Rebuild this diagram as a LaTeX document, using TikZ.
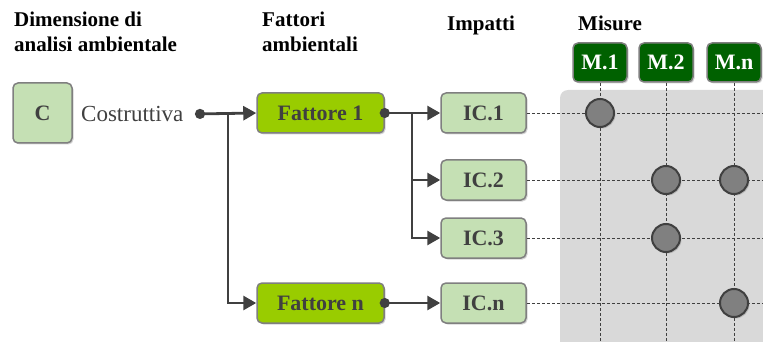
\documentclass[tikz,border=0pt]{standalone}
\usepackage{fontspec}
\setmainfont{Liberation Serif}[BoldFont={Liberation Serif Bold},ItalicFont={Liberation Serif Italic}]
\usetikzlibrary{arrows.meta,shadows}
\definecolor{lgreen}{HTML}{C5E0B4}
\definecolor{mgreen}{HTML}{99CC00}
\definecolor{dgreen}{HTML}{006100}
\definecolor{bord}{HTML}{7F7F7F}
\definecolor{ink}{HTML}{404040}
\definecolor{bg}{HTML}{D9D9D9}
\definecolor{dotc}{HTML}{808080}
\begin{document}
\begin{tikzpicture}[x=1pt,y=-1pt,
  shad/.style={drop shadow={shadow xshift=1.5pt,shadow yshift=-1.5pt,opacity=0.35}},
  boxbase/.style={draw=bord,line width=1.5pt,rounded corners=5pt,shad,inner sep=0pt,
     font=\fontsize{22}{24}\selectfont\bfseries},
  cbox/.style={boxbase,fill=lgreen,text=ink,minimum width=59pt,minimum height=60pt},
  fbox/.style={boxbase,fill=mgreen,text=ink,minimum width=127pt,minimum height=40pt},
  icbox/.style={boxbase,fill=lgreen,text=ink,minimum width=85pt,minimum height=40pt},
  mbox/.style={boxbase,fill=dgreen,text=white,minimum width=54pt,minimum height=39pt},
  title/.style={anchor=north west,align=left,inner sep=0pt,font=\fontsize{21}{25}\selectfont\bfseries},
  conn/.style={draw=ink,line width=2.8pt},
  arr/.style={conn,-{Triangle[length=13pt,width=14pt]}},
  dotarr/.style={conn,{Circle[length=10pt]}-{Triangle[length=13pt,width=14pt]}},
  grid/.style={draw=ink,line width=0.9pt,dash pattern=on 3pt off 2pt},
  meas/.style={circle,draw=ink,line width=2pt,fill=dotc,minimum size=28pt,inner sep=0pt,shad}
]
\useasboundingbox (0,0) rectangle (763,342);
% background grid area
\fill[bg,rounded corners=8pt] (560,90) rectangle (780,360);

% titles
\node[title] (t1) at (14,12) {Dimensione di\\analisi ambientale};
\node[title] (t2) at (262,12) {Fattori\\ambientali};
\node[title] (t3) at (447,16) {Impatti};
\node[title] (t4) at (578,16) {Misure};

% boxes
\node[cbox] (c) at (42.5,113) {C};
\node[anchor=west,inner sep=0pt,font=\fontsize{23}{24}\selectfont,text=ink] (cost) at (81,114) {Costruttiva};
\node[fbox] (f1) at (320.5,113) {Fattore 1};
\node[fbox] (fn) at (320.5,303) {Fattore n};
\node[icbox] (ic1) at (483.5,113) {IC.1};
\node[icbox] (ic2) at (483.5,180) {IC.2};
\node[icbox] (ic3) at (483.5,238) {IC.3};
\node[icbox] (icn) at (483.5,303) {IC.n};
\node[mbox] (m1) at (600,62.5) {M.1};
\node[mbox] (m2) at (666,62.5) {M.2};
\node[mbox] (mn) at (734,62.5) {M.n};

% grid coordinates
\coordinate (r1) at (763,113);
\coordinate (r2) at (763,180);
\coordinate (r3) at (763,238);
\coordinate (rn) at (763,303);
\coordinate (b1) at (600,342);
\coordinate (b2) at (666,342);
\coordinate (bn) at (734,342);
\draw[grid] (ic1.east) -- (r1);
\draw[grid] (ic2.east) -- (r2);
\draw[grid] (ic3.east) -- (r3);
\draw[grid] (icn.east) -- (rn);
\draw[grid] (m1.south) -- (b1);
\draw[grid] (m2.south) -- (b2);
\draw[grid] (mn.south) -- (bn);

% connectors
\coordinate (cs) at (195,114);
\coordinate (j1) at (228,114);
\coordinate (j2) at (412,113);
\draw[dotarr] (cs) -- (f1.west);
\draw[arr] (j1) |- (fn.west);
\draw[dotarr] ([xshift=-5pt]f1.east) -- (ic1.west);
\draw[arr] (j2) |- (ic2.west);
\draw[arr] (j2) |- (ic3.west);
\draw[dotarr] ([xshift=-5pt]fn.east) -- (icn.west);

% measure dots
\node[meas] (d11) at (600,113) {};
\node[meas] (d22) at (666,180) {};
\node[meas] (d2n) at (734,180) {};
\node[meas] (d32) at (666,238) {};
\node[meas] (dnn) at (734,303) {};
\end{tikzpicture}
\end{document}
